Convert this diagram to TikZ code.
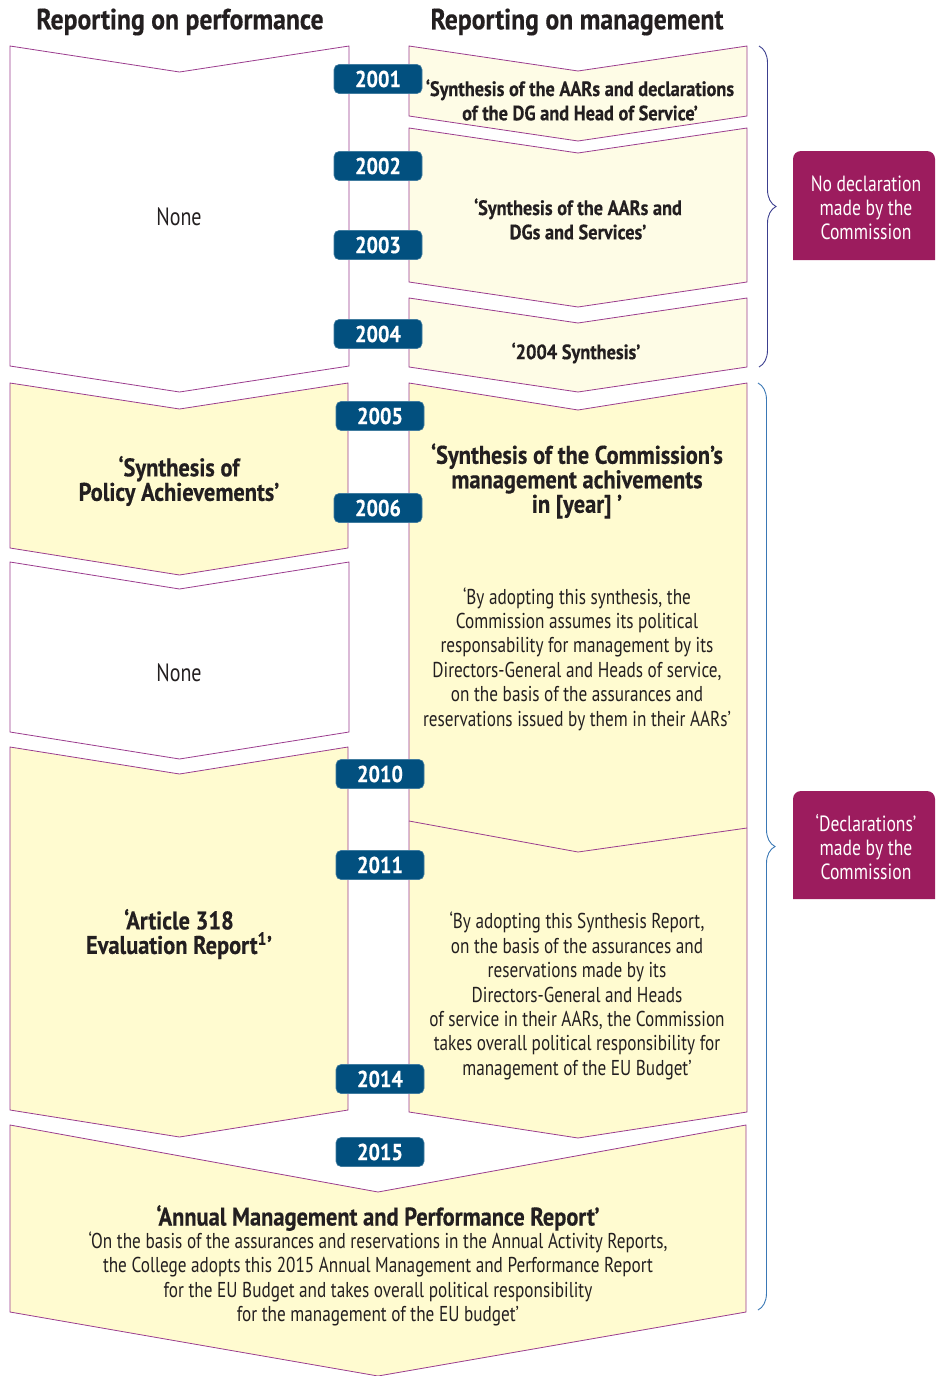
\documentclass[tikz,border=0pt]{standalone}
\usepackage{fontspec}
\setmainfont{PT Sans}[UprightFeatures={FakeStretch=0.8}, BoldFeatures={FakeStretch=0.88, FakeBold=0.4}]
\usetikzlibrary{decorations.pathreplacing}
\definecolor{edge}{HTML}{9B3C8E}
\definecolor{paleY}{HTML}{FEFCE6}
\definecolor{yel}{HTML}{FFFBD0}
\definecolor{badgeblue}{HTML}{02507F}
\definecolor{declcol}{HTML}{9C1C5E}
\definecolor{braceA}{HTML}{3C3F8F}
\definecolor{braceB}{HTML}{3A78B5}
\definecolor{ink}{HTML}{231F20}
\newcommand{\mychev}[8]{% x1 x2 xm ytop diptop ybot dipbot fill
  \filldraw[chevline, fill=#8] (#1,#4) -- (#3,#4+#5) -- (#2,#4) -- (#2,#6) -- (#3,#6+#7) -- (#1,#6) -- cycle;}
\tikzset{
  chevline/.style={draw=edge, line width=0.8pt},
  badge/.style={fill=badgeblue, draw=badgeblue!75!white, line width=0.6pt, rounded corners=5pt,
    minimum width=88pt, minimum height=29pt, inner sep=0pt, text=white,
    font=\fontsize{23}{24}\selectfont\bfseries},
  head/.style={text=ink, font=\fontsize{29.2}{30}\selectfont\bfseries},
  none/.style={text=ink, font=\fontsize{25}{27}\selectfont},
  smallbold/.style={text=ink, align=center, inner sep=0pt, font=\fontsize{20.8}{24.3}\selectfont\bfseries},
  bigbold/.style={text=ink, align=center, inner sep=0pt, font=\fontsize{25.5}{24.5}\selectfont\bfseries},
  body/.style={text=ink, align=center, inner sep=0pt, font=\fontsize{21.5}{24.4}\selectfont},
  decltext/.style={text=white, align=center, inner sep=0pt, font=\fontsize{22}{24.2}\selectfont},
  bracestyle/.style={decorate, decoration={brace, amplitude=17pt}, line width=0.9pt}
}
\begin{document}
\begin{tikzpicture}[x=1pt,y=-1pt]
\useasboundingbox (0,0) rectangle (935,1376);
% headers
\node[head] (hperf) at (180,22) {Reporting on performance};
\node[head] (hman) at (577,22) {Reporting on management};
% left column
\mychev{10}{349}{179.5}{46}{26}{366}{26}{white}
\mychev{10}{348}{179.5}{383}{26}{548}{27}{yel}
\mychev{10}{349}{179.5}{562}{27}{732}{27}{white}
\mychev{10}{348}{179.5}{747}{27}{1110}{27}{yel}
% right column
\mychev{409}{747}{578}{46}{25}{116}{25}{paleY}
\mychev{409}{747}{578}{128}{25}{282}{25}{paleY}
\mychev{409}{747}{578}{298}{25}{367}{25}{paleY}
\mychev{409}{747}{578}{383}{27}{1112}{26}{yel}
\draw[chevline] (409,821) -- (578,852) -- (747,828);
% bottom
\mychev{10}{746}{378}{1125}{67}{1312}{64}{yel}
% texts
\node[none] (none1) at (179,217) {None};
\node[none] (none2) at (179,673) {None};
\node[smallbold] (r1) at (580,100) {‘Synthesis of the AARs and declarations\\of the DG and Head of Service’};
\node[smallbold] (r2) at (578,219) {‘Synthesis of the AARs and\\DGs and Services’};
\node[smallbold] (r3) at (576,353) {‘2004 Synthesis’};
\node[bigbold] (l2) at (179,481) {‘Synthesis of\\Policy Achievements’};
\node[bigbold] (r4t) at (577,481) {‘Synthesis of the Commission’s\\management achivements\\in [year] ’};
\node[body] (r4b) at (577,659) {‘By adopting this synthesis, the\\Commission assumes its political\\responsability for management by its\\Directors-General and Heads of service,\\on the basis of the assurances and\\reservations issued by them in their AARs’};
\node[bigbold] (l4) at (179,934) {‘Article 318\\Evaluation Report\textsuperscript{1}’};
\node[body] (r5b) at (577,996) {‘By adopting this Synthesis Report,\\on the basis of the assurances and\\reservations made by its\\Directors-General and Heads\\of service in their AARs, the Commission\\takes overall political responsibility for\\management of the EU Budget’};
\node[bigbold] (bt) at (378,1218) {‘Annual Management and Performance Report’};
\node[body] (bb) at (378,1279) {‘On the basis of the assurances and reservations in the Annual Activity Reports,\\the College adopts this 2015 Annual Management and Performance Report\\for the EU Budget and takes overall political responsibility\\for the management of the EU budget’};
% badges
\node[badge] (y2001) at (378,79) {2001};
\node[badge] (y2002) at (378,166) {2002};
\node[badge] (y2003) at (378,245) {2003};
\node[badge] (y2004) at (378,334) {2004};
\node[badge] (y2005) at (380,416) {2005};
\node[badge] (y2006) at (378,508) {2006};
\node[badge] (y2010) at (380,774) {2010};
\node[badge] (y2011) at (380,865) {2011};
\node[badge] (y2014) at (380,1079) {2014};
\node[badge] (y2015) at (380,1152) {2015};
% braces
\draw[bracestyle, draw=braceA] (759,46) -- (759,367);
\draw[bracestyle, draw=braceB] (758,383) -- (758,1310);
% declaration boxes
\fill[declcol] (793,260) [rounded corners=8pt] -- (793,151) -- (935,151) [sharp corners] -- (935,260) -- cycle;
\node[decltext] (declA) at (866,208) {No declaration\\made by the\\Commission};
\fill[declcol] (793,899) [rounded corners=8pt] -- (793,791) -- (935,791) [sharp corners] -- (935,899) -- cycle;
\node[decltext] (declB) at (866,847) {‘Declarations’\\made by the\\Commission};
\end{tikzpicture}
\end{document}
